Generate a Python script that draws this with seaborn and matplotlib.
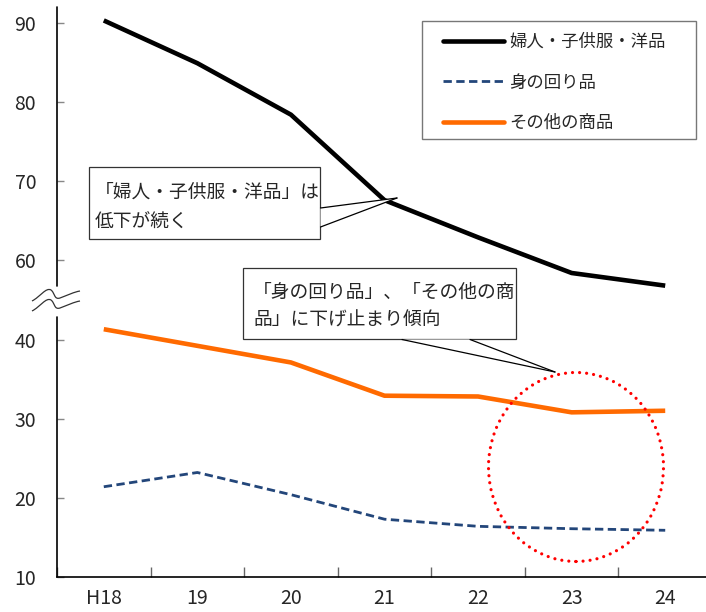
import numpy as np
import pandas as pd
import seaborn as sns
import matplotlib
matplotlib.use("Agg")
import matplotlib.pyplot as plt
from matplotlib.patches import Rectangle, Ellipse, PathPatch, Polygon
from matplotlib.path import Path
from matplotlib.lines import Line2D

# 年度
years = ["H18", "19", "20", "21", "22", "23", "24"]
# 系列ごとの値
womens_kids = [90.3, 84.9, 78.4, 67.6, 62.9, 58.4, 56.8]
accessories = [21.4, 23.2, 20.4, 17.3, 16.4, 16.1, 15.9]
other_goods = [41.3, 39.2, 37.1, 32.9, 32.8, 30.8, 31.0]
series_names = ["婦人・子供服・洋品", "身の回り品", "その他の商品"]
ytick_values = [10, 20, 30, 40, 60, 70, 80, 90]

W, H = 706, 612
BREAK = 50  # values above this are drawn 10 lower (axis break)


def squash(v):
    return v if v < BREAK else v - 10


sns.set_style("white")
plt.rcParams["font.family"] = ["Noto Sans CJK JP", "DejaVu Sans"]

fig = plt.figure(figsize=(W / 100, H / 100), dpi=100)
ax = fig.add_axes([57 / W, 1 - 577 / H, 655 / W, 570 / H])

rows = []
for name, vals in zip(series_names, [womens_kids, accessories, other_goods]):
    for i, v in enumerate(vals):
        rows.append({"pos": i, "value": squash(v), "series": name})
df = pd.DataFrame(rows)

palette = {series_names[0]: "#000000", series_names[1]: "#23467A", series_names[2]: "#FF6A00"}
widths = {series_names[0]: 3.3, series_names[1]: 2.0, series_names[2]: 3.3}
dashes = {series_names[0]: "", series_names[1]: (3.0, 1.6), series_names[2]: ""}

for name in series_names:
    sub = df[df["series"] == name]
    sns.lineplot(data=sub, x="pos", y="value", ax=ax, color=palette[name],
                 linewidth=widths[name], sort=False, legend=False,
                 dashes=False, solid_capstyle="butt", dash_capstyle="butt")
    line = ax.lines[-1]
    if dashes[name]:
        line.set_dashes(dashes[name])

ax.set_xlim(-0.5, 6.5)
ax.set_ylim(10, 82)
ax.set_xlabel("")
ax.set_ylabel("")

# y ticks with break-aware positions
ax.set_yticks([squash(v) for v in ytick_values])
ax.set_yticklabels([str(v) for v in ytick_values])
ax.tick_params(axis="y", direction="in", length=5, width=1, color="#888888",
               labelsize=14, pad=15, left=True)

# x: labels at categories, small tick marks between categories
ax.set_xticks(range(len(years)))
ax.set_xticklabels(years)
ax.set_xticks(np.arange(-0.5, 6.0, 1.0), minor=True)
ax.tick_params(axis="x", which="major", length=0, labelsize=14, pad=8)
ax.tick_params(axis="x", which="minor", direction="in", length=7, width=1,
               color="#666666", bottom=True)

for s in ["top", "right", "left"]:
    ax.spines[s].set_visible(False)
ax.spines["bottom"].set_color("black")
ax.spines["bottom"].set_linewidth(1.2)
ax.grid(False)


def P(px, py):
    return (px / W, 1 - py / H)


# broken left spine
for y0, y1 in [(7, 286), (317, 577)]:
    fig.add_artist(Line2D([57 / W, 57 / W], [1 - y0 / H, 1 - y1 / H],
                          transform=fig.transFigure, color="black", lw=1.2))

# wavy break marks
for dy in (0, 10):
    verts = [P(32, 301 + dy), P(40, 297 + dy), P(46, 287 + dy), P(51, 290 + dy),
             P(55, 293 + dy), P(54, 300 + dy), P(60, 298 + dy),
             P(68, 295 + dy), P(74, 292 + dy), P(80, 291 + dy)]
    codes = [Path.MOVETO] + [Path.CURVE4] * 9
    fig.add_artist(PathPatch(Path(verts, codes), transform=fig.transFigure,
                             fill=False, edgecolor="#333333", lw=0.9))

# legend: own frame, entries placed inside it
fig.add_artist(Rectangle(P(422, 139), (696 - 422) / W, (139 - 21) / H,
                         transform=fig.transFigure, facecolor="white",
                         edgecolor="#777777", lw=1.0, zorder=4))
handles = [Line2D([], [], color=palette[n], lw=widths[n]) for n in series_names]
handles[1].set_dashes(dashes[series_names[1]])
leg = fig.legend(handles, series_names, loc="upper left",
                 bbox_to_anchor=P(443, 33), bbox_transform=fig.transFigure,
                 borderaxespad=0, borderpad=0, fontsize=12.5, handlelength=3.5,
                 handletextpad=0.3, labelspacing=1.3, frameon=False)
leg.set_zorder(5)


def callout(box, tip, base, lines, tx, ty0, dy):
    x0, y0, x1, y1 = box
    fig.add_artist(Rectangle(P(x0, y1), (x1 - x0) / W, (y1 - y0) / H,
                             transform=fig.transFigure, facecolor="white",
                             edgecolor="#333333", lw=0.9, zorder=5))
    fig.add_artist(Polygon([P(*base[0]), P(*tip), P(*base[1])], closed=True,
                           transform=fig.transFigure, facecolor="white",
                           edgecolor="none", zorder=6))
    for b in base:
        fig.add_artist(Line2D([b[0] / W, tip[0] / W], [1 - b[1] / H, 1 - tip[1] / H],
                              transform=fig.transFigure, color="black", lw=0.9,
                              zorder=7))
    for k, t in enumerate(lines):
        fig.text(tx / W, 1 - (ty0 + k * dy) / H, t, fontsize=13.5,
                 va="center", ha="left", zorder=8)


callout((89, 167, 320, 239), (397, 198), [(320.5, 208), (320.5, 227)],
        ["「婦人・子供服・洋品」は", "低下が続く"], 95, 192, 30)
callout((243, 268, 516, 339), (555, 372), [(402, 339.5), (470, 339.5)],
        ["「身の回り品」、「その他の商", "品」に下げ止まり傾向"], 253, 292, 28)

# red dotted circle around the latest years
fig.add_artist(Ellipse(P(576, 467), 175 / W, 189 / H, transform=fig.transFigure,
                       fill=False, edgecolor="#FF0000", lw=2.3,
                       linestyle=(0, (0.01, 2.2)), capstyle="round", zorder=9))

fig.savefig("out.png", dpi=100)
